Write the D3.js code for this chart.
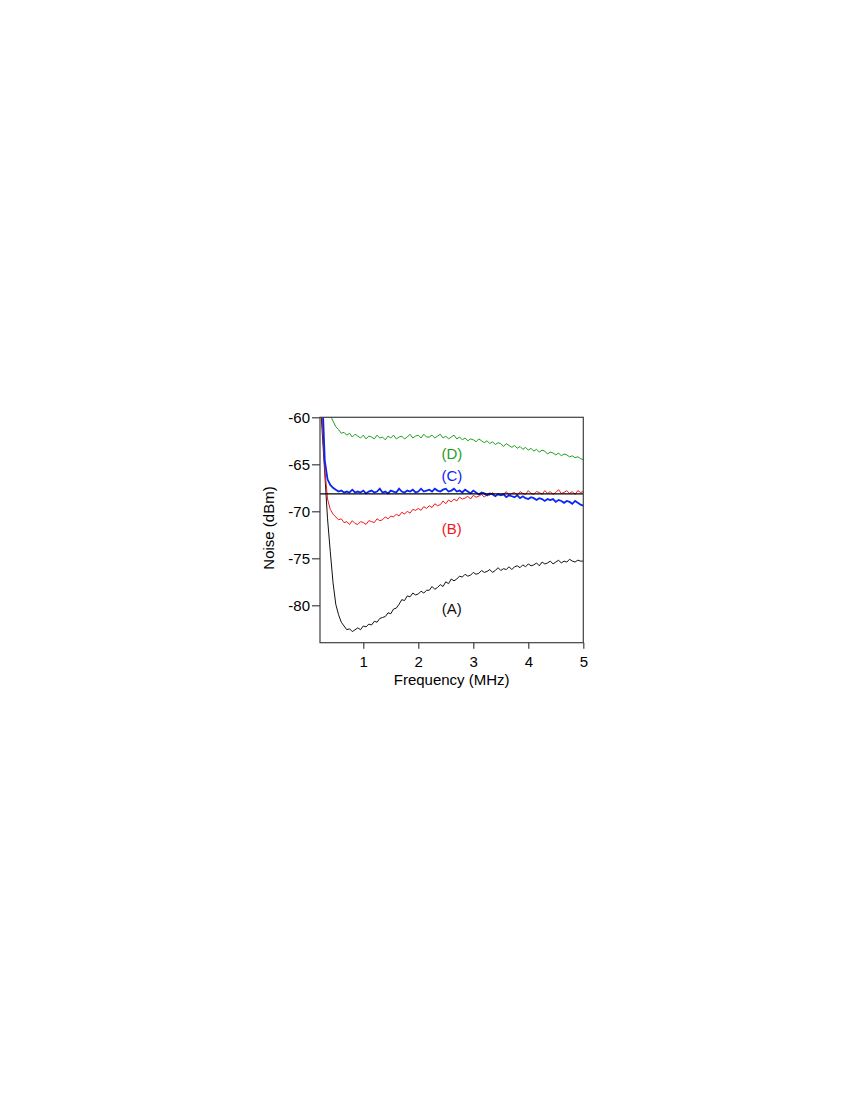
<!DOCTYPE html>
<html>
<head>
<meta charset="utf-8">
<script src="https://cdn.jsdelivr.net/npm/d3@7"></script>
<style>
  body { margin: 0; background: #fff; }
  text { font-family: "Liberation Sans", Arial, sans-serif; }
</style>
</head>
<body>
<div id="noise_plot"></div>
<script>
// frequency grid (MHz)
var freqs = [
  0.20,0.25,0.30,0.35,0.40,0.45,0.50,0.55,0.60,0.65,
  0.70,0.75,0.80,0.85,0.90,0.95,1.00,1.05,1.10,1.15,
  1.20,1.25,1.30,1.35,1.40,1.45,1.50,1.55,1.60,1.65,
  1.70,1.75,1.80,1.85,1.90,1.95,2.00,2.05,2.10,2.15,
  2.20,2.25,2.30,2.35,2.40,2.45,2.50,2.55,2.60,2.65,
  2.70,2.75,2.80,2.85,2.90,2.95,3.00,3.05,3.10,3.15,
  3.20,3.25,3.30,3.35,3.40,3.45,3.50,3.55,3.60,3.65,
  3.70,3.75,3.80,3.85,3.90,3.95,4.00,4.05,4.10,4.15,
  4.20,4.25,4.30,4.35,4.40,4.45,4.50,4.55,4.60,4.65,
  4.70,4.75,4.80,4.85,4.90,4.95,5.00
];

// noise traces (dBm)
var noiseA = [
  -56.0,-61.3,-66.0,-70.8,-74.3,-77.6,-79.9,-81.0,-81.8,-82.2,
  -82.6,-82.5,-82.8,-82.6,-82.4,-82.6,-82.2,-82.3,-82.0,-82.1,
  -81.7,-81.8,-81.4,-81.3,-81.2,-80.8,-80.9,-80.4,-80.3,-79.9,
  -79.4,-79.5,-79.0,-79.1,-78.7,-78.9,-78.8,-78.5,-78.7,-78.4,
  -78.4,-78.0,-78.3,-78.1,-77.8,-78.0,-77.5,-77.7,-77.2,-77.4,
  -77.2,-76.9,-77.0,-76.7,-76.9,-76.8,-76.5,-76.7,-76.6,-76.3,
  -76.5,-76.4,-76.2,-76.5,-76.3,-76.0,-76.3,-76.1,-76.2,-75.9,
  -76.2,-75.9,-75.8,-76.0,-75.7,-75.9,-75.6,-75.8,-75.7,-75.5,
  -75.8,-75.4,-75.6,-75.5,-75.3,-75.6,-75.4,-75.2,-75.5,-75.3,
  -75.4,-75.1,-75.3,-75.4,-75.2,-75.3,-75.3
];
var noiseB = [
  -53.0,-60.0,-65.5,-68.7,-69.8,-70.3,-70.6,-70.9,-70.8,-71.2,
  -71.1,-71.4,-71.0,-71.3,-71.4,-71.1,-71.2,-71.4,-71.0,-71.1,
  -71.2,-70.8,-71.0,-70.9,-70.6,-70.8,-70.5,-70.6,-70.3,-70.5,
  -70.1,-70.3,-70.0,-70.2,-69.8,-69.9,-69.7,-69.9,-69.5,-69.7,
  -69.4,-69.6,-69.2,-69.4,-69.3,-68.9,-69.2,-68.8,-69.0,-68.7,
  -68.9,-68.5,-68.7,-68.6,-68.4,-68.7,-68.3,-68.5,-68.4,-68.2,
  -68.5,-68.2,-68.3,-68.0,-68.4,-68.1,-68.3,-68.2,-67.9,-68.3,
  -68.1,-68.0,-68.3,-67.9,-68.1,-68.2,-67.8,-68.1,-68.2,-67.9,
  -68.0,-68.2,-67.8,-68.1,-67.9,-68.2,-68.0,-67.7,-68.1,-68.0,
  -67.8,-68.1,-67.9,-68.2,-67.8,-68.0,-67.9
];
var noiseC = [
  -53.0,-57.0,-64.6,-66.6,-67.2,-67.5,-67.7,-67.9,-67.8,-68.0,
  -67.9,-68.0,-67.7,-68.0,-67.9,-68.0,-67.8,-68.1,-67.9,-67.8,
  -68.0,-67.9,-67.6,-68.0,-67.9,-68.1,-67.8,-67.9,-68.0,-67.6,
  -67.9,-68.0,-67.8,-67.9,-67.7,-68.0,-67.9,-67.6,-67.9,-67.8,
  -67.7,-67.9,-67.6,-67.8,-67.9,-67.7,-67.6,-67.9,-67.8,-67.6,
  -67.9,-67.8,-68.0,-67.7,-67.9,-68.1,-67.8,-68.0,-68.2,-68.0,
  -68.1,-68.3,-68.1,-68.2,-68.4,-68.2,-68.3,-68.2,-68.5,-68.3,
  -68.4,-68.5,-68.3,-68.6,-68.4,-68.6,-68.7,-68.5,-68.6,-68.8,
  -68.6,-68.7,-68.9,-68.7,-68.8,-68.7,-69.0,-68.8,-68.9,-69.1,
  -68.9,-69.0,-69.2,-68.9,-69.1,-69.3,-69.4
];
var noiseD = [
  -56.0,-57.3,-58.3,-59.1,-59.8,-60.4,-61.0,-61.3,-61.7,-61.6,
  -61.9,-61.7,-62.1,-61.8,-62.0,-62.2,-61.9,-62.3,-62.0,-62.1,
  -62.3,-61.9,-62.2,-62.1,-62.4,-62.0,-62.2,-61.9,-62.3,-62.1,
  -62.0,-62.3,-62.1,-61.8,-62.2,-62.0,-61.9,-62.2,-61.8,-62.1,
  -62.1,-61.9,-62.2,-62.0,-61.8,-62.2,-62.0,-62.3,-62.1,-61.9,
  -62.3,-62.1,-62.4,-62.2,-62.5,-62.3,-62.4,-62.6,-62.3,-62.5,
  -62.7,-62.5,-62.8,-62.6,-62.9,-62.7,-62.8,-63.1,-62.8,-63.0,
  -63.2,-63.0,-63.3,-63.1,-63.4,-63.2,-63.5,-63.3,-63.6,-63.4,
  -63.7,-63.5,-63.6,-63.9,-63.7,-63.8,-64.0,-63.8,-64.1,-63.9,
  -64.0,-64.2,-64.1,-64.3,-64.2,-64.4,-64.5
];

// horizontal reference level (dBm)
var refLevel = -68.15;

var xTicks = [1, 2, 3, 4, 5];
var yTicks = [-80, -75, -70, -65, -60];

var traceNames = ["(A)", "(B)", "(C)", "(D)"];
var traceColors = ["#111111", "#f0161b", "#0a26f5", "#1f9e1f"];
var traceWidths = [1, 1, 1.8, 1];
var labelFreq = [2.61, 2.61, 2.61, 2.61];
var labelLevel = [-80.95, -72.4, -66.75, -64.4];

// set the dimensions and margins of the graph
var margin = {top: 417.3, right: 266.7, bottom: 457.3, left: 320},
    width = 850 - margin.left - margin.right,
    height = 1100 - margin.top - margin.bottom;

var svg = d3.select("#noise_plot")
  .append("svg")
    .attr("width", 850)
    .attr("height", 1100)
  .append("g")
    .attr("transform", "translate(" + margin.left + "," + margin.top + ")");

var x = d3.scaleLinear().domain([0.213, 5]).range([0, width]);
var y = d3.scaleLinear().domain([-83.98, -60]).range([height, 0]);

svg.append("clipPath")
    .attr("id", "plot-clip")
  .append("rect")
    .attr("width", width)
    .attr("height", height);

// traces
var traces = [noiseA, noiseB, noiseC, noiseD];
var line = d3.line()
    .x(function(d) { return x(d[0]); })
    .y(function(d) { return y(d[1]); });

var plot = svg.append("g").attr("clip-path", "url(#plot-clip)");

traces.forEach(function(vals, i) {
  plot.append("path")
    .datum(freqs.map(function(f, j) { return [f, vals[j]]; }))
    .attr("fill", "none")
    .attr("stroke", traceColors[i])
    .attr("stroke-width", traceWidths[i])
    .attr("d", line);
});

plot.append("line")
    .attr("x1", x(0.213))
    .attr("x2", x(5))
    .attr("y1", y(refLevel))
    .attr("y2", y(refLevel))
    .attr("stroke", "#000")
    .attr("stroke-width", 1.4);

// trace labels
traceNames.forEach(function(name, i) {
  svg.append("text")
    .attr("x", x(labelFreq[i]))
    .attr("y", y(labelLevel[i]))
    .attr("text-anchor", "middle")
    .style("font-size", "15px")
    .attr("fill", traceColors[i])
    .text(name);
});

// axes
var xAxis = svg.append("g")
    .attr("transform", "translate(0," + height + ")")
    .call(d3.axisBottom(x).tickValues(xTicks).tickSize(6).tickPadding(8)
      .tickFormat(function(d) { return String(d); }));

var yAxis = svg.append("g")
    .call(d3.axisLeft(y).tickValues(yTicks).tickSize(8).tickPadding(2)
      .tickFormat(function(d) { return String(d); }));

[xAxis, yAxis].forEach(function(ax) {
  ax.select(".domain").remove();
  ax.selectAll(".tick line").attr("stroke", "#404040").attr("stroke-width", 1.2);
  ax.selectAll(".tick text")
    .attr("fill", "#000")
    .style("font-size", "15px")
    .style("font-family", "'Liberation Sans', Arial, sans-serif");
});

// frame
svg.append("rect")
    .attr("width", width)
    .attr("height", height)
    .attr("fill", "none")
    .attr("stroke", "#404040")
    .attr("stroke-width", 1.2);

svg.append("text")
    .attr("x", width / 2)
    .attr("y", height + 42.5)
    .attr("text-anchor", "middle")
    .style("font-size", "15px")
    .attr("fill", "#000")
    .text("Frequency (MHz)");

svg.append("text")
    .attr("transform", "translate(-46," + (height / 2 - 2) + ") rotate(-90)")
    .attr("text-anchor", "middle")
    .style("font-size", "15px")
    .attr("fill", "#000")
    .text("Noise (dBm)");
</script>
</body>
</html>
